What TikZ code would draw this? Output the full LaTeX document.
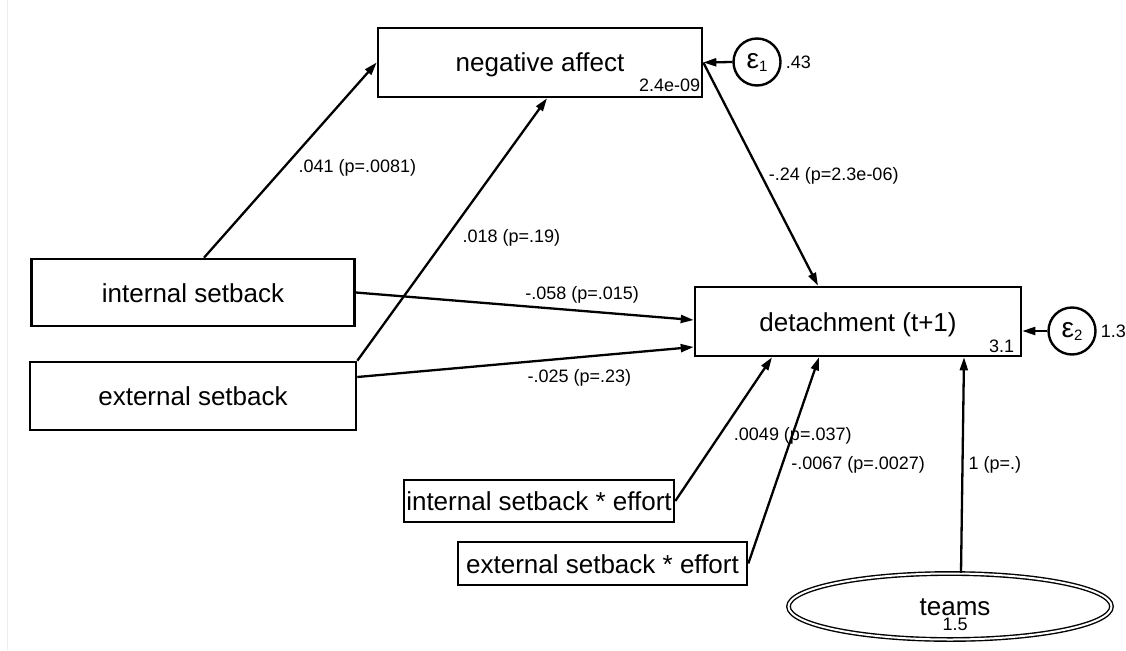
\documentclass[tikz,border=0pt]{standalone}
\usepackage{fontspec}
\setmainfont{Liberation Sans}
\usetikzlibrary{arrows.meta,shapes.geometric}

\newcommand{\boxfont}{\fontsize{26}{30}\selectfont}
\newcommand{\coeffont}{\fontsize{18}{20}\selectfont}
\newcommand{\eps}[1]{ε\raisebox{-3pt}{\fontsize{15}{15}\selectfont #1}}

\tikzset{
  obs/.style={draw, line width=2.6pt, inner sep=0pt, font=\boxfont,
              text height=19pt, text depth=0pt},
  lat/.style={draw, ellipse, double, double distance=2pt, line width=1.4pt,
              minimum width=323pt, minimum height=66pt, inner sep=0pt},
  err/.style={draw, circle, line width=2.4pt, minimum size=47pt, inner sep=0pt,
              font=\fontsize{28}{30}\selectfont},
  link/.style={line width=2.3pt, -{Triangle[length=13pt,width=8pt]}},
  coef/.style={font=\coeffont, inner sep=0pt},
}

\begin{document}
\begin{tikzpicture}[x=1pt,y=-1pt]
  \useasboundingbox (0,0) rectangle (1126,650);
  \draw[black!7, line width=1pt] (7,0) -- (7,650);

  % variables
  \node[obs, minimum width=324pt, minimum height=69pt] (na) at (540,62.5) {negative affect};
  \node[obs, minimum width=323pt, minimum height=67pt] (int) at (193,292.5) {internal setback};
  \node[obs, minimum width=326pt, minimum height=68pt] (ext) at (193,396) {external setback};
  \node[obs, minimum width=326pt, minimum height=69pt] (det) at (858,321.5) {detachment (t+1)};
  \node[obs, minimum width=270pt, minimum height=42pt] (ie) at (539,501) {internal setback * effort};
  \node[obs, minimum width=289pt, minimum height=43pt] (ee) at (602.5,563.5) {external setback * effort};
  \node[lat] (teams) at (950,606.5) {};
  \node[font=\boxfont, inner sep=0pt, text height=19pt, text depth=0pt] (teamsname) at (955,605.5) {teams};
  \node[coef, anchor=base] (teamsvar) at (955,630) {1.5};

  % errors
  \node[err, label={[coef, label distance=4pt]right:.43}] (e1) at (757,62) {\eps{1}};
  \node[err, label={[coef, label distance=4pt]right:1.3}] (e2) at (1072,331) {\eps{2}};

  % intercepts
  \node[coef, anchor=base east] (naint) at ([xshift=-3pt,yshift=7pt]na.south east) {2.4e-09};
  \node[coef, anchor=base east] (detint) at ([xshift=-8pt,yshift=4.5pt]det.south east) {3.1};

  %% paths
  \draw[link] ([xshift=11pt]int.north) -- node[coef, pos=.46, anchor=west, xshift=14pt] {.041 (p=.0081)} (na.west);
  \draw[link] (ext.north east) -- node[coef, pos=.47, anchor=west, xshift=15pt] {.018 (p=.19)} ([xshift=7pt]na.south);
  \draw[link] (int.east) -- node[coef, pos=.67, yshift=16pt] {-.058 (p=.015)} ([yshift=1.5pt]det.west);
  \draw[link] ([yshift=19pt]ext.east) -- node[coef, pos=.66, yshift=-21pt] {-.025 (p=.23)} ([yshift=-25.5pt]det.west);
  \draw[link] (na.east) -- node[coef, pos=.51, anchor=west, xshift=6pt] {-.24 (p=2.3e-06)} ([xshift=-40pt]det.north);
  \draw[link] (ie.east) -- node[coef, pos=.45, anchor=west, xshift=14pt] {.0049 (p=.037)} ([xshift=-86pt]det.south);
  \draw[link] (ee.east) -- node[coef, pos=.48, anchor=west, xshift=8pt] {-.0067 (p=.0027)} ([xshift=-39pt]det.south);
  \draw[link] ([xshift=11pt]teams.north) -- node[coef, pos=.5, anchor=west, xshift=5pt] {1 (p=.)} ([xshift=106pt]det.south);
  \draw[link] (e1.west) -- (na.east);
  \draw[link] (e2.west) -- (e2.west -| det.east);
\end{tikzpicture}
\end{document}
